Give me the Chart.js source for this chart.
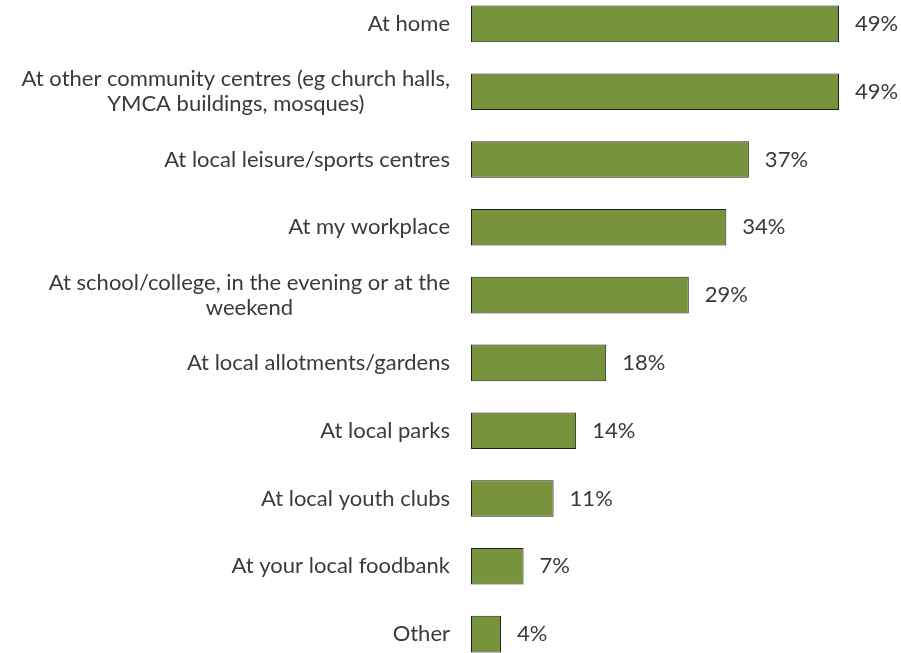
<!DOCTYPE html>
<html>
<head>
<meta charset="utf-8">
<script src="https://cdn.jsdelivr.net/npm/chart.js@4"></script>
<style>
  html, body { margin: 0; padding: 0; background: #fff; overflow: hidden; }
  #wrap { position: relative; width: 901px; height: 653px; overflow: hidden; }
  #chart { position: absolute; left: 0; top: -10px; }
</style>
</head>
<body>
<div id="wrap"><canvas id="chart" width="901" height="678"></canvas></div>
<script>
'use strict';

/* DATA */
const categories = [
  ['At home'],
  ['At other community centres (eg church halls,', 'YMCA buildings, mosques)'],
  ['At local leisure/sports centres'],
  ['At my workplace'],
  ['At school/college, in the evening or at the', 'weekend'],
  ['At local allotments/gardens'],
  ['At local parks'],
  ['At local youth clubs'],
  ['At your local foodbank'],
  ['Other'],
];
const percentages = [49, 49, 37, 34, 29, 18, 14, 11, 7, 4];

const FONT = '22px Lato, "Open Sans", sans-serif';
const TEXT_COLOR = '#3a3a3a';

/* draws the category names left of the bars and the % after each bar */
const labelsPlugin = {
  id: 'labelsPlugin',
  afterDraw(chart) {
    const ctx = chart.ctx;
    const yScale = chart.scales.y;
    const meta = chart.getDatasetMeta(0);
    const rightEdge = chart.chartArea.left - 21;
    const lineHeight = 25;

    ctx.save();
    ctx.font = FONT;
    ctx.fillStyle = TEXT_COLOR;
    ctx.textBaseline = 'middle';

    categories.forEach((lines, i) => {
      const y = yScale.getPixelForValue(i);
      const widths = lines.map(l => ctx.measureText(l).width);
      const maxW = Math.max(...widths);
      const centerX = rightEdge - maxW / 2;
      ctx.textAlign = 'center';
      lines.forEach((line, j) => {
        const ly = y + (j - (lines.length - 1) / 2) * lineHeight;
        ctx.fillText(line, centerX, ly);
      });
    });

    ctx.textAlign = 'left';
    meta.data.forEach((bar, i) => {
      ctx.fillText(percentages[i] + '%', bar.x + 16, bar.y);
    });
    ctx.restore();
  }
};

new Chart(document.getElementById('chart'), {
  type: 'bar',
  data: {
    labels: categories.map(c => c.join(' ')),
    datasets: [{
      data: percentages,
      backgroundColor: '#77933c',
      borderColor: '#1f1f1f',
      borderWidth: 1,
      borderSkipped: false,
      barPercentage: 0.54,
      categoryPercentage: 1,
    }]
  },
  options: {
    indexAxis: 'y',
    responsive: false,
    animation: false,
    layout: { padding: { left: 471, right: 54.5, top: 0, bottom: 0 } },
    plugins: {
      legend: { display: false },
      tooltip: { enabled: false },
    },
    scales: {
      x: { display: false, min: 0, max: 50 },
      y: { display: false },
    }
  },
  plugins: [labelsPlugin]
});
</script>
</body>
</html>
